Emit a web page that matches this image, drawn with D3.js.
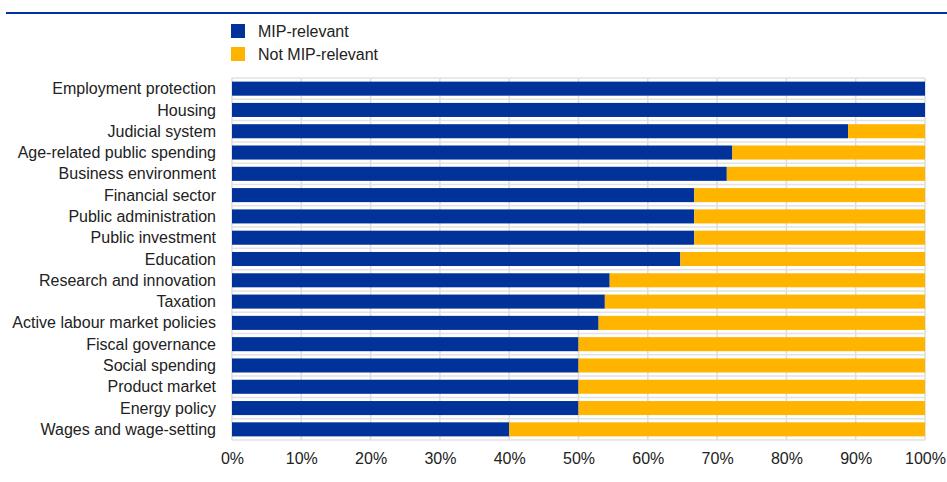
<!DOCTYPE html>
<html><head><meta charset="utf-8">
<script src="https://cdn.jsdelivr.net/npm/d3@7"></script>
<style>body{margin:0;background:#fff}svg{display:block;font-family:"Liberation Sans",Arial,sans-serif}</style>
</head><body><svg id="c" width="947" height="482"></svg>
<script>
const categories = ["Employment protection","Housing","Judicial system","Age-related public spending","Business environment","Financial sector","Public administration","Public investment","Education","Research and innovation","Taxation","Active labour market policies","Fiscal governance","Social spending","Product market","Energy policy","Wages and wage-setting"];
const mipRelevant = [100,100,88.9,72.2,71.4,66.7,66.7,66.7,64.7,54.5,53.8,52.9,50,50,50,50,40];
const notMipRelevant = mipRelevant.map(v => 100 - v);
const seriesNames = ["MIP-relevant","Not MIP-relevant"];
const xTicks = [0,10,20,30,40,50,60,70,80,90,100];
const colors = ["#003299","#FFB400"];

const svg = d3.select("#c");
const x = d3.scaleLinear().domain([0,100]).range([232,925]);
const y = d3.scaleBand().domain(categories).range([78,440]).paddingInner(0.34).paddingOuter(0.17);

svg.append("line").attr("x1",6).attr("x2",947).attr("y1",13).attr("y2",13).attr("stroke","#003299").attr("stroke-width",2);

// grid
const g = svg.append("g");
g.selectAll("line.v").data(xTicks).join("line").attr("class","v")
  .attr("x1",d=>x(d)).attr("x2",d=>x(d)).attr("y1",78).attr("y2",440)
  .attr("stroke","#dcdcdc").attr("stroke-width",1.5);
const hb = d3.range(categories.length+1).map(i => 78 + i*(362/categories.length));
g.selectAll("line.h").data(hb).join("line").attr("class","h")
  .attr("x1",x(0)).attr("x2",x(100)).attr("y1",d=>d).attr("y2",d=>d)
  .attr("stroke","#e2e2e2").attr("stroke-width",1.5);

const data = categories.map((c,i)=>({cat:c, a:mipRelevant[i], b:notMipRelevant[i]}));
svg.selectAll("rect.a").data(data).join("rect").attr("class","a")
  .attr("x",x(0)).attr("y",d=>y(d.cat)).attr("height",y.bandwidth())
  .attr("width",d=>x(d.a)-x(0)).attr("fill",colors[0]);
svg.selectAll("rect.b").data(data).join("rect").attr("class","b")
  .attr("x",d=>x(d.a)).attr("y",d=>y(d.cat)).attr("height",y.bandwidth())
  .attr("width",d=>x(d.a+d.b)-x(d.a)).attr("fill",colors[1]);

// y labels
svg.selectAll("text.yl").data(categories).join("text").attr("class","yl")
  .attr("x",216).attr("y",d=>y(d)+y.bandwidth()/2).attr("dy","0.35em")
  .attr("text-anchor","end").attr("font-size",16).attr("fill","#222").text(d=>d);

// x axis
const xa = svg.append("g").attr("transform","translate(0,440)")
  .call(d3.axisBottom(x).tickValues(xTicks).tickFormat(d=>d+"%").tickSize(0).tickPadding(13));
xa.select(".domain").remove();
xa.selectAll("text").attr("font-size",16).attr("fill","#222").attr("font-family","Liberation Sans, Arial, sans-serif");

// legend
const lg = svg.append("g");
seriesNames.forEach((s,i)=>{
  lg.append("rect").attr("x",231).attr("y",24+i*23).attr("width",14).attr("height",14).attr("fill",colors[i]);
  lg.append("text").attr("x",258).attr("y",31+i*23).attr("dy","0.35em").attr("font-size",16).attr("fill","#222").text(s);
});
</script></body></html>
